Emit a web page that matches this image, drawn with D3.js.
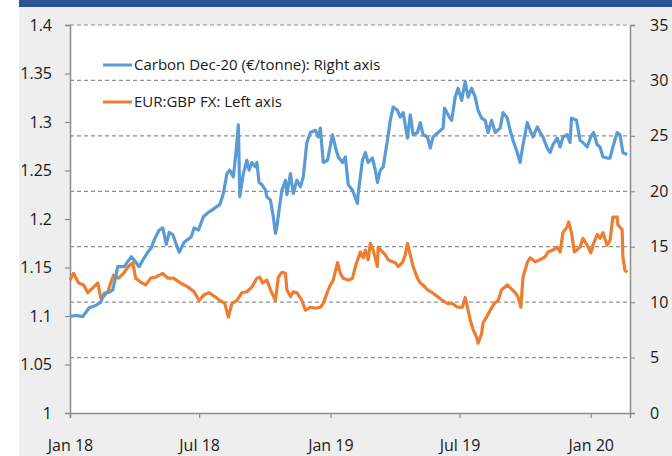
<!DOCTYPE html>
<html>
<head>
<meta charset="utf-8">
<script src="https://cdn.jsdelivr.net/npm/d3@7"></script>
<style>
  body { margin: 0; background: #fff; }
  text { font-family: "Open Sans", "Noto Sans", sans-serif; fill: #1a1a1a; }
</style>
</head>
<body>
<div id="chart"></div>
<script>
// data
var carbonDates = ["2018-01-01","2018-01-09","2018-01-19","2018-01-28","2018-02-06","2018-02-13","2018-02-18","2018-02-25","2018-03-02","2018-03-09","2018-03-18","2018-03-28","2018-04-01","2018-04-08","2018-04-15","2018-04-20","2018-04-25","2018-04-29","2018-05-06","2018-05-11","2018-05-16","2018-05-20","2018-05-25","2018-06-03","2018-06-10","2018-06-20","2018-06-24","2018-06-30","2018-07-07","2018-07-14","2018-07-19","2018-07-23","2018-07-30","2018-08-04","2018-08-09","2018-08-13","2018-08-18","2018-08-22","2018-08-25","2018-08-27","2018-09-01","2018-09-06","2018-09-09","2018-09-13","2018-09-18","2018-09-20","2018-09-23","2018-09-27","2018-10-02","2018-10-04","2018-10-09","2018-10-13","2018-10-16","2018-10-18","2018-10-21","2018-10-25","2018-10-30","2018-11-01","2018-11-06","2018-11-10","2018-11-15","2018-11-20","2018-11-24","2018-11-29","2018-12-04","2018-12-11","2018-12-15","2018-12-18","2018-12-22","2018-12-28","2019-01-04","2019-01-08","2019-01-12","2019-01-18","2019-01-22","2019-01-26","2019-02-01","2019-02-08","2019-02-09","2019-02-15","2019-02-19","2019-02-23","2019-03-01","2019-03-05","2019-03-08","2019-03-12","2019-03-16","2019-03-22","2019-03-26","2019-03-30","2019-04-05","2019-04-09","2019-04-13","2019-04-19","2019-04-23","2019-04-27","2019-05-03","2019-05-07","2019-05-11","2019-05-17","2019-05-21","2019-05-25","2019-06-01","2019-06-08","2019-06-10","2019-06-15","2019-06-20","2019-06-25","2019-06-29","2019-07-04","2019-07-09","2019-07-13","2019-07-18","2019-07-23","2019-07-27","2019-08-01","2019-08-06","2019-08-10","2019-08-15","2019-08-20","2019-08-27","2019-08-31","2019-09-06","2019-09-10","2019-09-14","2019-09-20","2019-09-24","2019-09-28","2019-10-04","2019-10-08","2019-10-12","2019-10-18","2019-10-22","2019-10-26","2019-11-01","2019-11-05","2019-11-09","2019-11-15","2019-11-19","2019-11-23","2019-11-29","2019-12-03","2019-12-05","2019-12-12","2019-12-17","2019-12-21","2019-12-27","2020-01-01","2020-01-05","2020-01-10","2020-01-14","2020-01-18","2020-01-24","2020-01-28","2020-02-01","2020-02-07","2020-02-11","2020-02-15","2020-02-21"];
var carbonValues = [8.7,8.8,8.7,9.5,9.7,10.0,10.8,10.9,11.1,13.2,13.2,14.1,13.8,13.2,14.0,14.5,14.9,15.6,16.5,16.7,15.2,16.3,16.1,14.5,15.4,15.9,16.7,16.5,17.7,18.1,18.3,18.5,18.8,19.8,21.6,21.9,21.3,23.7,26.0,19.5,21.6,22.8,21.9,22.6,22.2,22.6,20.8,20.6,20.1,19.5,19.2,17.7,16.2,16.8,18.3,20.1,21.0,19.7,21.6,19.8,21.0,20.4,21.3,24.4,25.3,25.5,24.9,25.7,22.6,22.8,25.1,24.0,23.1,22.6,23.1,20.6,20.1,18.9,19.8,22.8,23.5,22.6,23.0,21.9,20.8,21.9,22.2,24.6,26.4,27.6,27.3,26.7,27.1,24.8,26.9,25.1,25.3,26.2,25.1,24.9,23.9,24.9,25.3,25.7,27.5,26.9,26.4,28.5,29.3,28.2,29.9,28.5,29.3,28.5,27.3,26.6,26.4,25.3,26.4,25.3,25.7,27.1,26.6,25.5,24.6,23.5,22.6,24.2,26.2,25.5,24.9,25.8,25.3,24.9,23.9,23.5,24.2,24.8,24.0,24.9,25.1,24.4,26.6,26.4,24.6,24.4,24.0,24.9,25.3,24.2,24.0,23.1,23.0,23.0,24.0,25.3,25.1,23.5,23.3];

var fxDates = ["2018-01-01","2018-01-06","2018-01-13","2018-01-20","2018-01-26","2018-02-02","2018-02-09","2018-02-13","2018-02-17","2018-02-23","2018-02-27","2018-03-03","2018-03-10","2018-03-17","2018-03-24","2018-03-30","2018-04-03","2018-04-10","2018-04-17","2018-04-24","2018-05-01","2018-05-11","2018-05-18","2018-05-26","2018-06-05","2018-06-15","2018-06-24","2018-07-01","2018-07-08","2018-07-15","2018-07-23","2018-07-30","2018-08-06","2018-08-11","2018-08-16","2018-08-23","2018-08-30","2018-09-06","2018-09-13","2018-09-20","2018-09-24","2018-09-28","2018-10-04","2018-10-09","2018-10-16","2018-10-20","2018-10-25","2018-10-30","2018-11-01","2018-11-06","2018-11-10","2018-11-15","2018-11-22","2018-11-27","2018-12-04","2018-12-11","2018-12-18","2018-12-22","2018-12-28","2019-01-01","2019-01-05","2019-01-11","2019-01-15","2019-01-19","2019-01-26","2019-02-01","2019-02-05","2019-02-12","2019-02-16","2019-02-19","2019-02-23","2019-02-26","2019-03-02","2019-03-08","2019-03-09","2019-03-15","2019-03-19","2019-03-23","2019-03-29","2019-04-02","2019-04-06","2019-04-12","2019-04-16","2019-04-19","2019-04-23","2019-04-27","2019-05-03","2019-05-07","2019-05-11","2019-05-17","2019-05-24","2019-05-31","2019-06-07","2019-06-14","2019-06-21","2019-06-28","2019-07-05","2019-07-09","2019-07-13","2019-07-16","2019-07-20","2019-07-25","2019-07-27","2019-08-01","2019-08-03","2019-08-08","2019-08-13","2019-08-19","2019-08-24","2019-08-29","2019-09-06","2019-09-13","2019-09-17","2019-09-21","2019-09-25","2019-09-28","2019-10-04","2019-10-08","2019-10-15","2019-10-22","2019-10-29","2019-11-02","2019-11-09","2019-11-15","2019-11-19","2019-11-23","2019-11-29","2019-12-01","2019-12-05","2019-12-09","2019-12-17","2019-12-21","2019-12-27","2020-01-01","2020-01-05","2020-01-10","2020-01-14","2020-01-18","2020-01-24","2020-01-28","2020-02-01","2020-02-07","2020-02-08","2020-02-14","2020-02-15","2020-02-18","2020-02-21"];
var fxValues = [1.137,1.144,1.134,1.132,1.124,1.129,1.134,1.119,1.120,1.125,1.134,1.142,1.139,1.144,1.151,1.155,1.139,1.135,1.132,1.139,1.140,1.144,1.139,1.139,1.134,1.130,1.125,1.116,1.122,1.124,1.120,1.116,1.113,1.099,1.113,1.116,1.124,1.125,1.130,1.139,1.140,1.134,1.137,1.127,1.116,1.140,1.145,1.144,1.127,1.120,1.125,1.124,1.116,1.106,1.109,1.108,1.109,1.113,1.125,1.132,1.137,1.155,1.144,1.139,1.137,1.139,1.151,1.166,1.160,1.168,1.158,1.175,1.168,1.151,1.171,1.166,1.163,1.158,1.156,1.155,1.151,1.155,1.163,1.175,1.163,1.151,1.139,1.134,1.132,1.127,1.124,1.120,1.116,1.113,1.113,1.109,1.109,1.119,1.106,1.096,1.086,1.078,1.072,1.082,1.093,1.099,1.106,1.113,1.116,1.127,1.132,1.127,1.124,1.120,1.109,1.140,1.155,1.160,1.156,1.158,1.161,1.166,1.168,1.171,1.166,1.186,1.192,1.197,1.186,1.166,1.171,1.180,1.173,1.165,1.175,1.184,1.180,1.186,1.173,1.178,1.202,1.202,1.194,1.189,1.161,1.147,1.145];

var leftTicks = [1, 1.05, 1.1, 1.15, 1.2, 1.25, 1.3, 1.35, 1.4];
var rightTicks = [0, 5, 10, 15, 20, 25, 30, 35];
var xTickDates = ["2018-01-01","2018-07-01","2019-01-01","2019-07-01","2020-01-01"];
var xTickLabels = ["Jan 18","Jul 18","Jan 19","Jul 19","Jan 20"];

var W = 672, H = 456;
var margin = { top: 25, right: 630, bottom: 413, left: 70 };
var parse = d3.timeParse("%Y-%m-%d");

var svg = d3.select("#chart").append("svg")
  .attr("width", W).attr("height", H);

// panel background, title strip and white plot area
svg.append("rect").attr("x", 19).attr("y", 0).attr("width", W - 19).attr("height", H).attr("fill", "#eeeeee");
svg.append("rect").attr("x", 19).attr("y", 0).attr("width", W - 19).attr("height", 7).attr("fill", "#2f5496");
svg.append("rect")
  .attr("x", margin.left).attr("y", margin.top)
  .attr("width", margin.right - margin.left).attr("height", margin.bottom - margin.top)
  .attr("fill", "#fff");

var x = d3.scaleTime()
  .domain([parse("2018-01-01"), parse("2020-02-25")])
  .range([margin.left, margin.right]);
var yL = d3.scaleLinear().domain([1, 1.4]).range([margin.bottom, margin.top]);
var yR = d3.scaleLinear().domain([0, 35]).range([margin.bottom, margin.top]);

// gridlines follow the right axis
svg.append("g")
  .selectAll("line")
  .data(rightTicks.filter(function(d) { return d > 0; }))
  .enter().append("line")
  .attr("x1", margin.left).attr("x2", margin.right)
  .attr("y1", function(d) { return yR(d); })
  .attr("y2", function(d) { return yR(d); })
  .attr("stroke", "#8f8f8f")
  .attr("stroke-width", 1.2)
  .attr("stroke-dasharray", "4,3");

// axes
function styleAxis(g) {
  g.select(".domain").attr("stroke", "#8c8c8c").attr("stroke-width", 1.5);
  g.selectAll(".tick line").attr("stroke", "#8c8c8c").attr("stroke-width", 1.2);
  g.selectAll(".tick text").style("font-size", "16px").attr("fill", "#1a1a1a");
}

var leftAxis = svg.append("g")
  .attr("transform", "translate(" + margin.left + ",0)")
  .call(d3.axisLeft(yL).tickValues(leftTicks).tickSizeOuter(0).tickSize(5).tickPadding(13)
    .tickFormat(function(d) { return String(+d.toFixed(2)); }));
styleAxis(leftAxis);

var rightAxis = svg.append("g")
  .attr("transform", "translate(" + margin.right + ",0)")
  .call(d3.axisRight(yR).tickValues(rightTicks).tickSizeOuter(0).tickSize(5).tickPadding(15));
styleAxis(rightAxis);

var bottomAxis = svg.append("g")
  .attr("transform", "translate(0," + margin.bottom + ")")
  .call(d3.axisBottom(x).tickValues(xTickDates.map(parse)).tickSizeOuter(0).tickSize(5).tickPadding(22)
    .tickFormat(function(d, i) { return xTickLabels[i]; }));
styleAxis(bottomAxis);

// series
var carbon = carbonDates.map(function(d, i) { return { date: parse(d), value: carbonValues[i] }; });
var fx = fxDates.map(function(d, i) { return { date: parse(d), value: fxValues[i] }; });

var lineR = d3.line()
  .x(function(d) { return x(d.date); })
  .y(function(d) { return yR(d.value); });
var lineL = d3.line()
  .x(function(d) { return x(d.date); })
  .y(function(d) { return yL(d.value); });

svg.append("path").datum(fx)
  .attr("fill", "none").attr("stroke", "#ed7d31").attr("stroke-width", 3.2)
  .attr("stroke-linejoin", "round").attr("d", lineL);
svg.append("path").datum(carbon)
  .attr("fill", "none").attr("stroke", "#5b9bd5").attr("stroke-width", 3.2)
  .attr("stroke-linejoin", "round").attr("d", lineR);

// legend
var legend = [
  { label: "Carbon Dec-20 (\u20ac/tonne): Right axis", color: "#5b9bd5", y: 65 },
  { label: "EUR:GBP FX: Left axis", color: "#ed7d31", y: 102 }
];
var lg = svg.append("g").selectAll("g").data(legend).enter().append("g");
lg.append("line")
  .attr("x1", 103).attr("x2", 132)
  .attr("y1", function(d) { return d.y; }).attr("y2", function(d) { return d.y; })
  .attr("stroke", function(d) { return d.color; }).attr("stroke-width", 3);
lg.append("text")
  .attr("x", 134).attr("y", function(d) { return d.y; })
  .attr("dy", "0.35em")
  .style("font-size", "15px")
  .text(function(d) { return d.label; });
</script>
</body>
</html>
